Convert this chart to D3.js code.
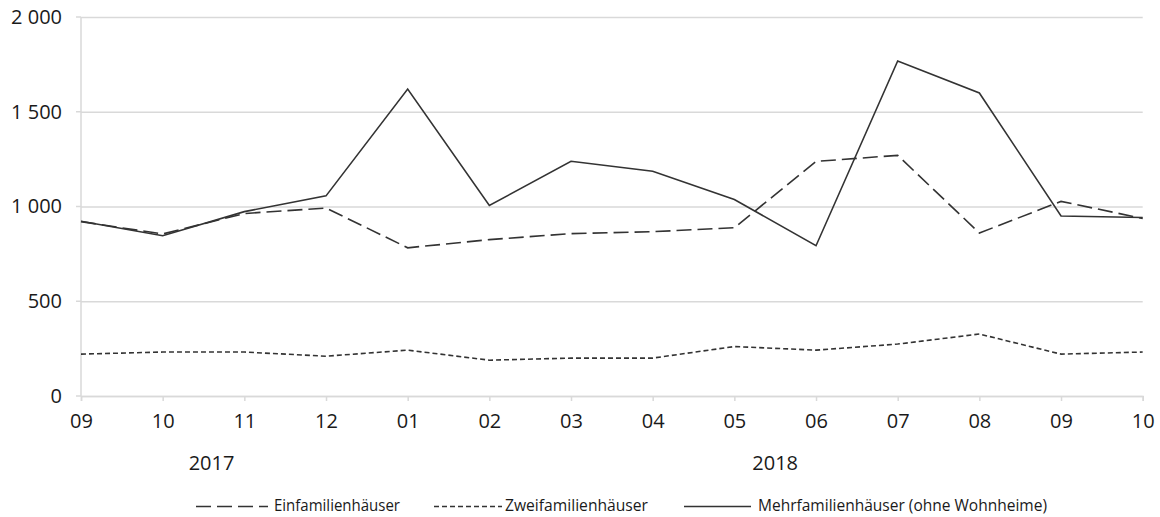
<!DOCTYPE html>
<html>
<head>
<meta charset="utf-8">
<script src="https://cdn.jsdelivr.net/npm/d3@7"></script>
<style>
    body { margin: 0; background: #fff; }
    svg { font-family: "Open Sans", sans-serif; }
</style>
</head>
<body>
<svg id="chart" width="1160" height="517"></svg>
<script>
// months on the x axis (sep 2017 .. oct 2018)
const months = ["09", "10", "11", "12", "01", "02", "03", "04", "05", "06", "07", "08", "09", "10"];
const years = [
    { label: "2017", from: 0, to: 3 },
    { label: "2018", from: 4, to: 13 }
];

// series values
const einfamilien = [920, 855, 963, 992, 782, 825, 857, 867, 888, 1238, 1270, 860, 1027, 937];
const zweifamilien = [221, 232, 232, 210, 242, 189, 200, 200, 261, 242, 274, 327, 221, 232];
const mehrfamilien = [922, 846, 973, 1056, 1620, 1005, 1239, 1186, 1037, 793, 1768, 1599, 950, 942];

const yTicks = [0, 500, 1000, 1500, 2000];

const series = [
    { name: "Einfamilienhäuser", values: einfamilien, dash: "15,6" },
    { name: "Zweifamilienhäuser", values: zweifamilien, dash: "5,3" },
    { name: "Mehrfamilienhäuser (ohne Wohnheime)", values: mehrfamilien, dash: null }
];

//------------------
// layout
const svg = d3.select("#chart");
const plotLeft = 81, plotRight = 1142.7, plotTop = 17, plotBottom = 396;
const lineColor = "#333333";
const gridColor = "#d9d9d9";

const x = d3.scaleLinear().domain([0, months.length - 1]).range([plotLeft, plotRight]);
const y = d3.scaleLinear().domain([0, 2000]).range([plotBottom, plotTop]);

// thousands with a space, like "2 000"
const de = d3.formatLocale({ decimal: ",", thousands: " ", grouping: [3], currency: ["", ""] });
const fmt = de.format(",d");

// gridlines + y labels
const yAxis = svg.append("g")
    .attr("transform", `translate(${plotLeft},0)`)
    .call(d3.axisLeft(y).tickValues(yTicks).tickFormat(fmt).tickSize(-(plotRight - plotLeft)).tickPadding(19));
yAxis.select(".domain").remove();
yAxis.selectAll(".tick line").attr("stroke", gridColor).attr("stroke-width", 1.5);
yAxis.selectAll(".tick text")
    .attr("fill", "#1a1a1a")
    .style("font-size", "20px")
    .style("font-family", "'Open Sans', sans-serif");

// small ticks left of the y axis
svg.append("g").selectAll("line")
    .data(yTicks)
    .join("line")
    .attr("x1", plotLeft - 5).attr("x2", plotLeft)
    .attr("y1", d => y(d)).attr("y2", d => y(d))
    .attr("stroke", gridColor).attr("stroke-width", 1.5);

// vertical axis line
svg.append("line")
    .attr("x1", plotLeft).attr("x2", plotLeft)
    .attr("y1", plotTop).attr("y2", plotBottom)
    .attr("stroke", gridColor).attr("stroke-width", 1.5);

// x axis
const xAxis = svg.append("g")
    .attr("transform", `translate(0,${plotBottom})`)
    .call(d3.axisBottom(x)
        .tickValues(d3.range(months.length))
        .tickFormat(i => months[i])
        .tickSize(5)
        .tickPadding(13));
xAxis.select(".domain").attr("stroke", gridColor).attr("stroke-width", 1.5);
xAxis.selectAll(".tick line").attr("stroke", gridColor).attr("stroke-width", 1.5);
xAxis.selectAll(".tick text")
    .attr("fill", "#1a1a1a")
    .style("font-size", "20px")
    .style("font-family", "'Open Sans', sans-serif");

// year labels under the months
svg.append("g").selectAll("text")
    .data(years)
    .join("text")
    .attr("x", d => (x(d.from) + x(d.to)) / 2 + (d.label === "2017" ? 8 : 0))
    .attr("y", 470)
    .attr("text-anchor", "middle")
    .attr("fill", "#1a1a1a")
    .style("font-size", "20px")
    .text(d => d.label);

//------------------
// lines
const line = d3.line()
    .x((d, i) => x(i))
    .y(d => y(d));

svg.append("g").selectAll("path")
    .data(series)
    .join("path")
    .attr("d", d => line(d.values))
    .attr("fill", "none")
    .attr("stroke", lineColor)
    .attr("stroke-width", 1.6)
    .attr("stroke-dasharray", d => d.dash);

//------------------
// legend
const legendItems = [
    { s: series[0], x1: 196, x2: 268, tx: 274, tw: 126 },
    { s: series[1], x1: 434, x2: 502, tx: 505, tw: 143 },
    { s: series[2], x1: 684, x2: 751, tx: 758, tw: 289 }
];
const legend = svg.append("g");
legend.selectAll("line")
    .data(legendItems)
    .join("line")
    .attr("x1", d => d.x1).attr("x2", d => d.x2)
    .attr("y1", 506.5).attr("y2", 506.5)
    .attr("stroke", lineColor)
    .attr("stroke-width", 1.6)
    .attr("stroke-dasharray", d => d.s.dash);
legend.selectAll("text")
    .data(legendItems)
    .join("text")
    .attr("x", d => d.tx)
    .attr("y", 511)
    .attr("fill", "#1a1a1a")
    .attr("textLength", d => d.tw)
    .attr("lengthAdjust", "spacingAndGlyphs")
    .style("font-size", "16px")
    .text(d => d.s.name);
</script>
</body>
</html>
